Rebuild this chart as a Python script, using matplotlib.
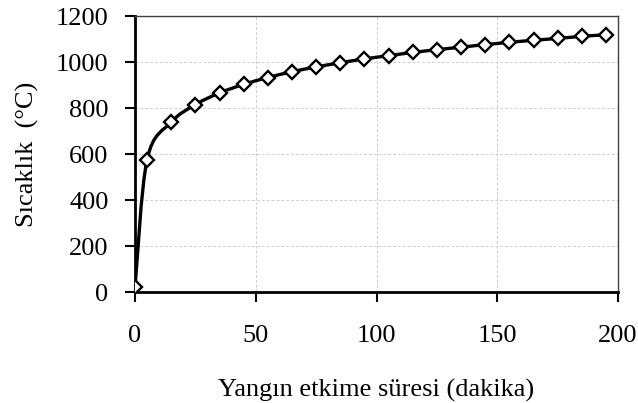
import matplotlib.pyplot as plt
from matplotlib.path import Path
from matplotlib.patches import PathPatch

# marker points (minutes, deg C)
t_mark = [0, 5, 15, 25, 35, 45, 55, 65, 75, 85, 95, 105, 115, 125, 135, 145, 155, 165, 175, 185, 195]
T_mark = [20, 576, 739, 815, 866, 903, 933, 958, 979, 997, 1014, 1028, 1042, 1054, 1065, 1076, 1086, 1095, 1103, 1112, 1119]

plt.rcParams['font.family'] = ['Liberation Serif', 'DejaVu Serif']
plt.rcParams['font.size'] = 19

fig = plt.figure(figsize=(6.38, 4.03), dpi=100)
ax = fig.add_axes([0.2116, 0.2754, 0.7571, 0.6846])

# smoothed line through the markers (Excel-like smooth line, cubic bezier segments)
pts = list(zip(t_mark, T_mark))
verts = [pts[0]]
codes = [Path.MOVETO]
for i in range(len(pts) - 1):
    p0 = pts[i - 1] if i > 0 else pts[i]
    p1 = pts[i]
    p2 = pts[i + 1]
    p3 = pts[i + 2] if i + 2 < len(pts) else pts[i + 1]
    c1 = (p1[0] + (p2[0] - p0[0]) / 6, p1[1] + (p2[1] - p0[1]) / 6)
    c2 = (p2[0] - (p3[0] - p1[0]) / 6, p2[1] - (p3[1] - p1[1]) / 6)
    verts += [c1, c2, p2]
    codes += [Path.CURVE4] * 3
ax.add_patch(PathPatch(Path(verts, codes), facecolor='none', edgecolor='black',
                       linewidth=2.4, zorder=3))

ax.plot(t_mark, T_mark, linestyle='none', marker='D', markersize=7,
        markerfacecolor='white', markeredgecolor='black', markeredgewidth=1.7, zorder=4)

ax.set_xlim(0, 200)
ax.set_ylim(0, 1200)
ax.set_xticks(range(0, 201, 50))
ax.set_yticks(range(0, 1201, 200))
ax.grid(True, color='#cfcfcf', linestyle='--', linewidth=0.7, dashes=(3, 2))
ax.set_axisbelow(True)

for side in ['left', 'bottom']:
    ax.spines[side].set_linewidth(2)
    ax.spines[side].set_color('black')
for side in ['top', 'right']:
    ax.spines[side].set_linewidth(1)
    ax.spines[side].set_color('#404040')
ax.tick_params(direction='out', length=7, width=1.5)
ax.tick_params(axis='y', pad=12)
ax.tick_params(axis='x', pad=17)

ax.set_xlabel('Yangın etkime süresi (dakika)', labelpad=23)
ax.set_ylabel('Sıcaklık  (°C)', labelpad=12)

fig.savefig('out.png', dpi=100)
